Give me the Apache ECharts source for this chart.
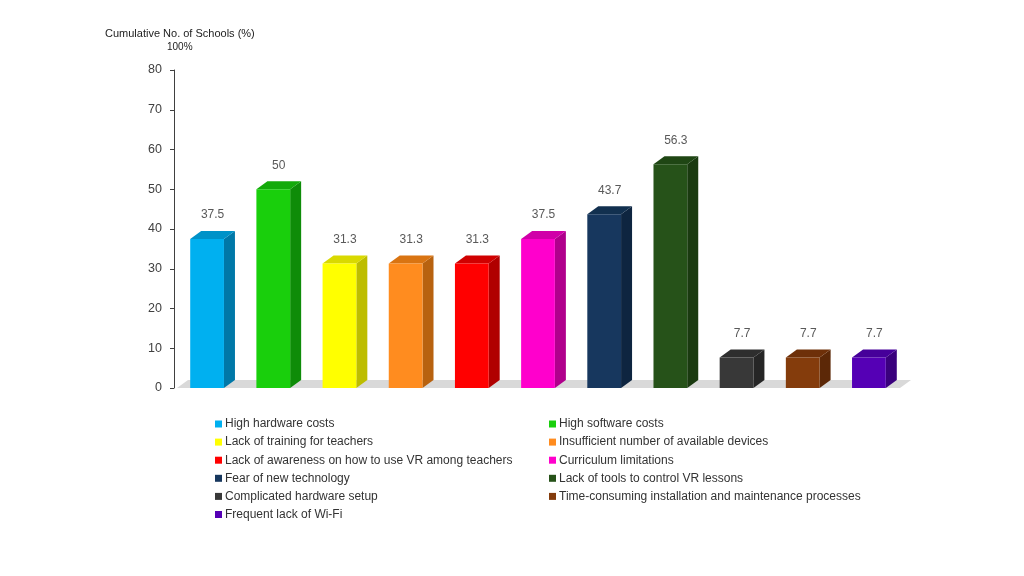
<!DOCTYPE html>
<html><head><meta charset="utf-8">
<script src="https://cdn.jsdelivr.net/npm/echarts@6/dist/echarts.min.js"></script>
<style>html,body{margin:0;padding:0;background:#fff}#c{width:1024px;height:576px}</style>
</head><body><div id="c"></div>
<script>
const categories = ["High hardware costs","High software costs","Lack of training for teachers","Insufficient number of available devices","Lack of awareness on how to use VR among teachers","Curriculum limitations","Fear of new technology","Lack of tools to control VR lessons","Complicated hardware setup","Time-consuming installation and maintenance processes","Frequent lack of Wi-Fi"];
const values = [37.5, 50, 31.3, 31.3, 31.3, 37.5, 43.7, 56.3, 7.7, 7.7, 7.7];
const frontColors = ["#00B0F0","#19CF0C","#FFFF00","#FF8C1F","#FF0000","#FF00CC","#17375E","#265219","#383838","#843C0C","#5500B5"];
const sideColors  = ["#0078A8","#0E8C08","#BDBD00","#B8620F","#B00000","#B0008C","#0E2540","#1A3A10","#262626","#5C2807","#3A007D"];
const topColors   = ["#0092C8","#13AA0A","#D9D900","#D97412","#D00000","#D000A8","#12304F","#1F4614","#2E2E2E","#6E3009","#46009A"];
const yTicks = {min:0, max:80, interval:10};

const DX = 11, DY = 8;
const FONT = "Liberation Sans, Arial, sans-serif";

function barRender(params, api){
  const x = api.value(0), v = api.value(1);
  const idx = x;
  const base = api.coord([x, 0]);
  const top = api.coord([x, v]);
  const bw = api.size([1,0])[0]*0.51;
  const l = base[0]-bw/2, r = base[0]+bw/2;
  return {type:'group', children:[
    {type:'polygon', shape:{points:[[r,top[1]],[r+DX,top[1]-DY],[r+DX,base[1]-DY],[r,base[1]]]}, style:{fill:sideColors[idx]}},
    {type:'polygon', shape:{points:[[l,top[1]],[l+DX,top[1]-DY],[r+DX,top[1]-DY],[r,top[1]]]}, style:{fill:topColors[idx]}},
    {type:'rect', shape:{x:l, y:top[1], width:bw, height:base[1]-top[1]}, style:{fill:frontColors[idx]}},
    {type:'text', style:{text:String(v), x:base[0]+DX/2, y:top[1]-DY-10, textAlign:'center', textVerticalAlign:'bottom', fill:'#595959', font:'12px '+FONT}}
  ]};
}
function floorRender(params, api){
  const cs = params.coordSys;
  const y0 = cs.y+cs.height;
  return {type:'polygon', shape:{points:[[cs.x+3,y0],[cs.x+3+DX,y0-DY],[cs.x+cs.width+DX-2,y0-DY],[cs.x+cs.width-2,y0]]}, style:{fill:'#D9D9D9'}, z2:-1};
}

const series = [{type:'custom', name:'floor', renderItem:floorRender, data:[[0,0]], silent:true, z:1}];
categories.forEach((c,i)=>{
  series.push({type:'custom', name:c, renderItem:barRender, data:[[i, values[i]]], itemStyle:{color:frontColors[i]}, z:2});
});

const legendCommon = {orient:'vertical', icon:'rect', itemWidth:7, itemHeight:7, itemGap:6.1, textStyle:{fontFamily:FONT, fontSize:12, color:'#333333', padding:[0,0,0,-2]}, selectedMode:false};
const chart = echarts.init(document.getElementById('c'), null, {renderer:'canvas'});
chart.setOption({
  animation:false,
  grid:{left:174, right:122, top:70, bottom:188},
  xAxis:{type:'category', data:categories.map((c,i)=>i), axisLine:{show:false}, axisTick:{show:false}, axisLabel:{show:false}},
  yAxis:{type:'value', min:yTicks.min, max:yTicks.max, interval:yTicks.interval,
    axisLine:{show:true, lineStyle:{color:'#404040', width:1}},
    axisTick:{show:true, length:4, lineStyle:{color:'#404040'}},
    axisLabel:{fontFamily:FONT, fontSize:12.5, color:'#404040', margin:12},
    splitLine:{show:false}},
  title:[
    {text:'Cumulative No. of Schools (%)', left:100, top:23, textStyle:{fontFamily:FONT, fontSize:11, fontWeight:'normal', color:'#222'}},
    {text:'100%', left:162, top:37, textStyle:{fontFamily:FONT, fontSize:10, fontWeight:'normal', color:'#222'}}
  ],
  legend:[
    Object.assign({}, legendCommon, {left:210, top:413, data:categories.filter((c,i)=>i%2===0)}),
    Object.assign({}, legendCommon, {left:544, top:413, data:categories.filter((c,i)=>i%2===1)})
  ],
  series:series
});
</script></body></html>
